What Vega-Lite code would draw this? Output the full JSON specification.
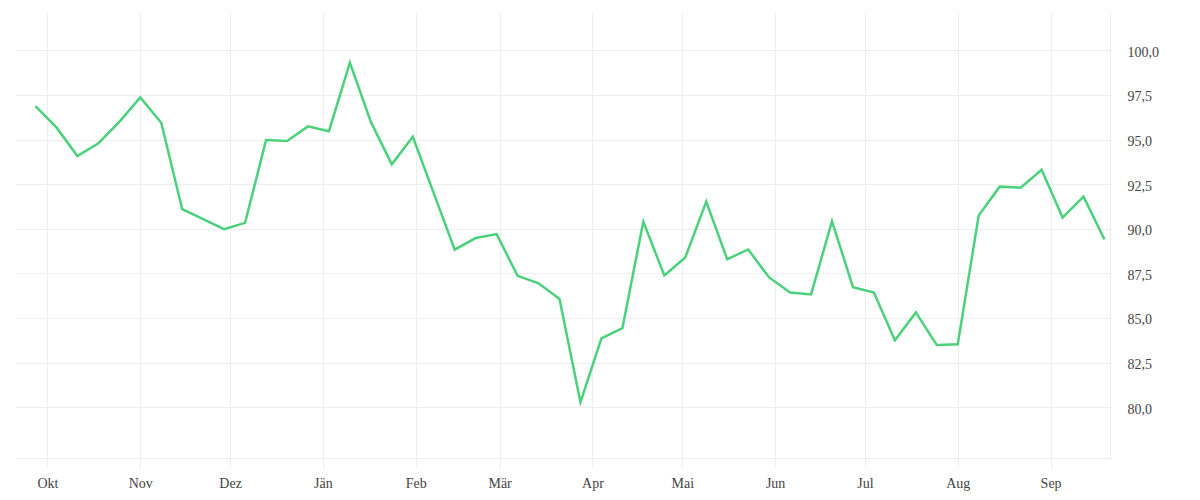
{
  "$schema": "https://vega.github.io/schema/vega-lite/v6.json",
  "autosize": {"type": "none"},
  "width": 1095,
  "height": 446,
  "padding": {"left": 15, "top": 12, "right": 90, "bottom": 42},
  "background": "white",
  "data": {
    "values": [
      {"date": "2021-09-27T00:00", "value": 96.87},
      {"date": "2021-10-04T00:00", "value": 95.68},
      {"date": "2021-10-11T00:00", "value": 94.08},
      {"date": "2021-10-18T00:00", "value": 94.79},
      {"date": "2021-10-25T00:00", "value": 95.99},
      {"date": "2021-11-01T00:00", "value": 97.36},
      {"date": "2021-11-08T00:00", "value": 95.94},
      {"date": "2021-11-15T00:00", "value": 91.10},
      {"date": "2021-11-22T00:00", "value": 90.54},
      {"date": "2021-11-29T00:00", "value": 89.98},
      {"date": "2021-12-06T00:00", "value": 90.33},
      {"date": "2021-12-13T00:00", "value": 94.97},
      {"date": "2021-12-20T00:00", "value": 94.92},
      {"date": "2021-12-27T00:00", "value": 95.74},
      {"date": "2022-01-03T00:00", "value": 95.47},
      {"date": "2022-01-10T00:00", "value": 99.31},
      {"date": "2022-01-17T00:00", "value": 95.99},
      {"date": "2022-01-24T00:00", "value": 93.61},
      {"date": "2022-01-31T00:00", "value": 95.16},
      {"date": "2022-02-07T00:00", "value": 92.0},
      {"date": "2022-02-14T00:00", "value": 88.83},
      {"date": "2022-02-21T00:00", "value": 89.48},
      {"date": "2022-02-28T00:00", "value": 89.70},
      {"date": "2022-03-07T00:00", "value": 87.36},
      {"date": "2022-03-14T00:00", "value": 86.94},
      {"date": "2022-03-21T00:00", "value": 86.06},
      {"date": "2022-03-28T00:00", "value": 80.28},
      {"date": "2022-04-04T00:00", "value": 83.86},
      {"date": "2022-04-11T00:00", "value": 84.43},
      {"date": "2022-04-18T00:00", "value": 90.40},
      {"date": "2022-04-25T00:00", "value": 87.38},
      {"date": "2022-05-02T00:00", "value": 88.39},
      {"date": "2022-05-09T00:00", "value": 91.52},
      {"date": "2022-05-16T00:00", "value": 88.29},
      {"date": "2022-05-23T00:00", "value": 88.84},
      {"date": "2022-05-30T00:00", "value": 87.27},
      {"date": "2022-06-06T00:00", "value": 86.43},
      {"date": "2022-06-13T00:00", "value": 86.32},
      {"date": "2022-06-20T00:00", "value": 90.42},
      {"date": "2022-06-27T00:00", "value": 86.73},
      {"date": "2022-07-04T00:00", "value": 86.43},
      {"date": "2022-07-11T00:00", "value": 83.75},
      {"date": "2022-07-18T00:00", "value": 85.31},
      {"date": "2022-07-25T00:00", "value": 83.48},
      {"date": "2022-08-01T00:00", "value": 83.53},
      {"date": "2022-08-08T00:00", "value": 90.75},
      {"date": "2022-08-15T00:00", "value": 92.36},
      {"date": "2022-08-22T00:00", "value": 92.30},
      {"date": "2022-08-29T00:00", "value": 93.31},
      {"date": "2022-09-05T00:00", "value": 90.63},
      {"date": "2022-09-12T00:00", "value": 91.80},
      {"date": "2022-09-19T00:00", "value": 89.40}
    ]
  },
  "mark": {"type": "line", "color": "#4bd17b", "strokeWidth": 2.5, "strokeJoin": "miter", "interpolate": "linear"},
  "encoding": {
    "x": {
      "field": "date",
      "type": "temporal",
      "scale": {
        "domain": [
          {"year": 2021, "month": 9, "date": 20, "hours": 4},
          {"year": 2022, "month": 9, "date": 20, "hours": 20}
        ]
      },
      "axis": {
        "title": null,
        "tickCount": {"interval": "month", "step": 1},
        "labelExpr": "['Jän','Feb','Mär','Apr','Mai','Jun','Jul','Aug','Sep','Okt','Nov','Dez'][month(datum.value)]",
        "grid": true,
        "gridColor": "#eeeeee",
        "domain": true,
        "domainColor": "#eeeeee",
        "ticks": true,
        "tickColor": "#eeeeee",
        "tickSize": 10,
        "labelPadding": 8,
        "labelAlign": "center",
        "labelFlush": false,
        "labelOverlap": false,
        "labelFont": "Liberation Serif",
        "labelFontSize": 14,
        "labelColor": "#444444"
      }
    },
    "y": {
      "field": "value",
      "type": "quantitative",
      "scale": {"domain": [77.15, 102.15], "nice": false, "zero": false},
      "axis": {
        "title": null,
        "orient": "right",
        "values": [80, 82.5, 85, 87.5, 90, 92.5, 95, 97.5, 100],
        "labelExpr": "replace(format(datum.value, '.1f'), '.', ',')",
        "grid": true,
        "gridColor": "#eeeeee",
        "domain": true,
        "domainColor": "#eeeeee",
        "ticks": false,
        "labelPadding": 17,
        "labelOffset": 2,
        "labelFont": "Liberation Serif",
        "labelFontSize": 14,
        "labelColor": "#444444"
      }
    }
  },
  "config": {"view": {"stroke": null}}
}
